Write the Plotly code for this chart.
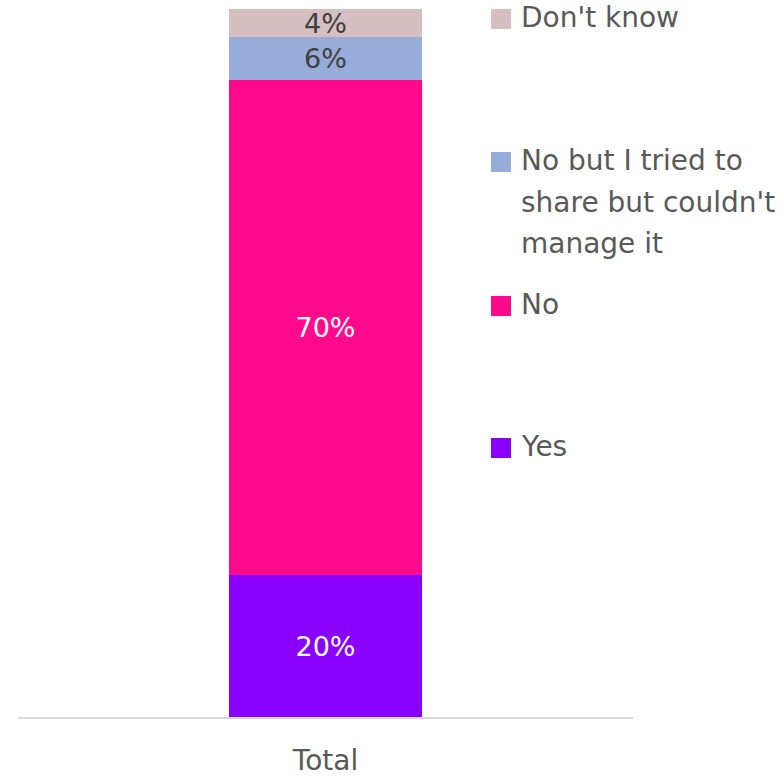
import plotly.graph_objects as go

# Survey result: single stacked bar
categories = ["Total"]
series_names = ["Yes", "No", "No but I tried to<br>share but couldn't<br>manage it", "Don't know"]
series_values = [[20], [70], [6], [4]]
series_colors = ["#8A00FF", "#FF0A8C", "#97ACD8", "#D5BFC1"]
label_colors = ["#FFFFFF", "#FFFFFF", "#404040", "#404040"]

FONT = "DejaVu Sans"
TEXT_GREY = "#595959"

W, H = 784, 776
M_L, M_R, M_T, M_B = 18, 151, 9, 59
plot_w = W - M_L - M_R
plot_h = H - M_T - M_B


def px_to_paper_y(p):
    return (H - M_B - p) / plot_h


def px_to_paper_x(p):
    return (p - M_L) / plot_w


fig = go.Figure()
for name, vals, color, lcolor in zip(series_names, series_values, series_colors, label_colors):
    fig.add_trace(go.Bar(
        x=categories,
        y=vals,
        name=name,
        marker=dict(color=color, line=dict(width=0)),
        width=0.315,
        text=vals,
        texttemplate="%{y}%",
        textposition="inside",
        insidetextanchor="middle",
        textangle=0,
        constraintext="none",
        textfont=dict(family=FONT, size=27, color=lcolor),
        showlegend=False,
        hoverinfo="skip",
    ))

# Legend drawn as swatches + labels on the right, top entry first
legend_rows_px = [19, 162, 306, 448]  # swatch centre (pixels from top)
legend_order = list(range(len(series_names)))[::-1]
shapes = []
annotations = []
for row_px, idx in zip(legend_rows_px, legend_order):
    shapes.append(dict(
        type="rect", xref="paper", yref="paper",
        x0=px_to_paper_x(491), x1=px_to_paper_x(511),
        y0=px_to_paper_y(row_px + 10), y1=px_to_paper_y(row_px - 10),
        fillcolor=series_colors[idx], line=dict(width=0), layer="above",
    ))
    annotations.append(dict(
        xref="paper", yref="paper",
        x=px_to_paper_x(519), y=px_to_paper_y(row_px - 20),
        xanchor="left", yanchor="top", align="left",
        text='<span style="font-size:28px">' + series_names[idx].replace("<br>", '</span><br><span style="font-size:28px">') + "</span>",
        showarrow=False,
        font=dict(family=FONT, size=32, color=TEXT_GREY),
    ))

fig.update_layout(
    width=W, height=H,
    margin=dict(l=M_L, r=M_R, t=M_T, b=M_B, pad=0, autoexpand=False),
    barmode="stack",
    plot_bgcolor="white",
    paper_bgcolor="white",
    xaxis=dict(
        type="category",
        range=[-0.5, 0.5],
        automargin=False,
        showline=True, linecolor="#D9D9D9", linewidth=2,
        showgrid=False, zeroline=False, ticks="",
        tickfont=dict(family=FONT, size=28, color=TEXT_GREY),
        ticklabelstandoff=17,
        fixedrange=True,
    ),
    yaxis=dict(range=[0, 100], visible=False, showgrid=False, zeroline=False,
               automargin=False, fixedrange=True),
    shapes=shapes,
    annotations=annotations,
    showlegend=False,
)

fig.write_html("out.html")
